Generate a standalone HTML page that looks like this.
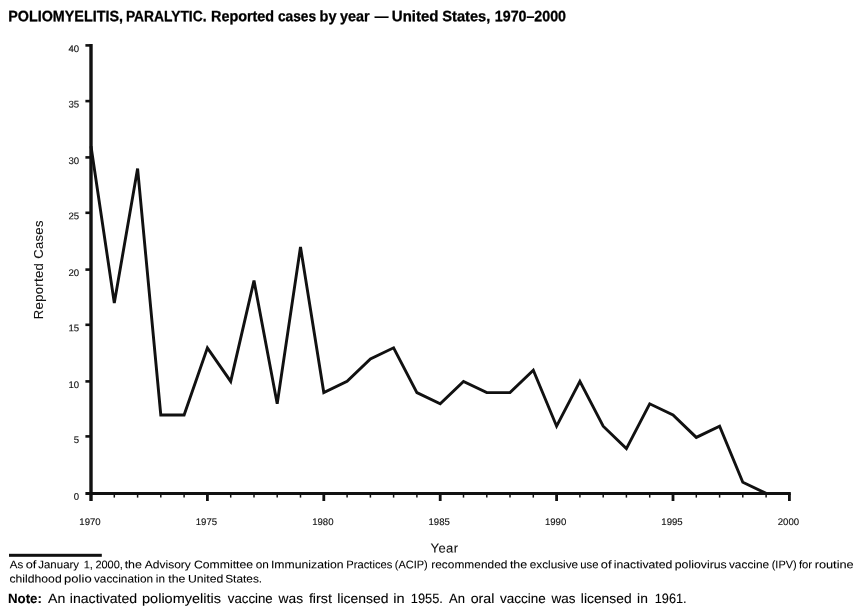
<!DOCTYPE html>
<html><head><meta charset="utf-8"><title>Poliomyelitis</title>
<style>
html,body{margin:0;padding:0;background:#fff;}
body{width:860px;height:615px;overflow:hidden;font-family:"Liberation Sans",sans-serif;}
svg{display:block;position:absolute;left:0;top:0;}
text{white-space:pre;}
</style></head><body>
<svg width="860" height="615" viewBox="0 0 860 615" font-family="'Liberation Sans', sans-serif">
<g stroke="#111" fill="none">
<line x1="91.0" y1="44" x2="91.0" y2="501" stroke-width="3.4"/>
<line x1="85.4" y1="493.4" x2="790.8" y2="493.4" stroke-width="3"/>
<line x1="85.4" y1="436.4" x2="91.0" y2="436.4" stroke-width="2.6"/>
<line x1="85.4" y1="381.4" x2="91.0" y2="381.4" stroke-width="2.6"/>
<line x1="85.4" y1="324.8" x2="91.0" y2="324.8" stroke-width="2.6"/>
<line x1="85.4" y1="269.6" x2="91.0" y2="269.6" stroke-width="2.6"/>
<line x1="85.4" y1="212.8" x2="91.0" y2="212.8" stroke-width="2.6"/>
<line x1="85.4" y1="157.4" x2="91.0" y2="157.4" stroke-width="2.6"/>
<line x1="85.4" y1="101.1" x2="91.0" y2="101.1" stroke-width="2.6"/>
<line x1="85.4" y1="45.4" x2="91.0" y2="45.4" stroke-width="2.6"/>
<line x1="114.3" y1="493.4" x2="114.3" y2="497.6" stroke-width="1.5"/>
<line x1="137.6" y1="493.4" x2="137.6" y2="497.6" stroke-width="1.5"/>
<line x1="160.8" y1="493.4" x2="160.8" y2="497.6" stroke-width="1.5"/>
<line x1="184.1" y1="493.4" x2="184.1" y2="497.6" stroke-width="1.5"/>
<line x1="207.4" y1="493.4" x2="207.4" y2="501" stroke-width="2.8"/>
<line x1="230.7" y1="493.4" x2="230.7" y2="497.6" stroke-width="1.5"/>
<line x1="254.0" y1="493.4" x2="254.0" y2="497.6" stroke-width="1.5"/>
<line x1="277.2" y1="493.4" x2="277.2" y2="497.6" stroke-width="1.5"/>
<line x1="300.5" y1="493.4" x2="300.5" y2="497.6" stroke-width="1.5"/>
<line x1="323.8" y1="493.4" x2="323.8" y2="501" stroke-width="2.8"/>
<line x1="347.1" y1="493.4" x2="347.1" y2="497.6" stroke-width="1.5"/>
<line x1="370.4" y1="493.4" x2="370.4" y2="497.6" stroke-width="1.5"/>
<line x1="393.6" y1="493.4" x2="393.6" y2="497.6" stroke-width="1.5"/>
<line x1="416.9" y1="493.4" x2="416.9" y2="497.6" stroke-width="1.5"/>
<line x1="440.2" y1="493.4" x2="440.2" y2="501" stroke-width="2.8"/>
<line x1="463.5" y1="493.4" x2="463.5" y2="497.6" stroke-width="1.5"/>
<line x1="486.8" y1="493.4" x2="486.8" y2="497.6" stroke-width="1.5"/>
<line x1="510.0" y1="493.4" x2="510.0" y2="497.6" stroke-width="1.5"/>
<line x1="533.3" y1="493.4" x2="533.3" y2="497.6" stroke-width="1.5"/>
<line x1="556.6" y1="493.4" x2="556.6" y2="501" stroke-width="2.8"/>
<line x1="579.9" y1="493.4" x2="579.9" y2="497.6" stroke-width="1.5"/>
<line x1="603.2" y1="493.4" x2="603.2" y2="497.6" stroke-width="1.5"/>
<line x1="626.4" y1="493.4" x2="626.4" y2="497.6" stroke-width="1.5"/>
<line x1="649.7" y1="493.4" x2="649.7" y2="497.6" stroke-width="1.5"/>
<line x1="673.0" y1="493.4" x2="673.0" y2="501" stroke-width="2.8"/>
<line x1="696.3" y1="493.4" x2="696.3" y2="497.6" stroke-width="1.5"/>
<line x1="719.6" y1="493.4" x2="719.6" y2="497.6" stroke-width="1.5"/>
<line x1="742.8" y1="493.4" x2="742.8" y2="497.6" stroke-width="1.5"/>
<line x1="766.1" y1="493.4" x2="766.1" y2="497.6" stroke-width="1.5"/>
<line x1="789.4" y1="493.4" x2="789.4" y2="501" stroke-width="2.8"/>
<polyline points="91.0,146.2 114.3,303.0 137.6,168.6 160.8,415.0 184.1,415.0 207.4,347.8 230.7,381.4 254.0,280.6 277.2,403.8 300.5,247.0 323.8,392.6 347.1,381.4 370.4,359.0 393.6,347.8 416.9,392.6 440.2,403.8 463.5,381.4 486.8,392.6 510.0,392.6 533.3,370.2 556.6,426.2 579.9,381.4 603.2,426.2 626.4,448.6 649.7,403.8 673.0,415.0 696.3,437.4 719.6,426.2 742.8,482.2 766.1,493.4" stroke-width="2.9" stroke-linejoin="miter" stroke-linecap="butt"/>
</g>
<g font-size="9.6" fill="#111" stroke="#111" stroke-width="0.13">
<text transform="translate(79.2,499.8) rotate(0.03)" text-anchor="end">0</text>
<text transform="translate(79.2,442.9) rotate(0.03)" text-anchor="end">5</text>
<text transform="translate(79.2,387.9) rotate(0.03)" text-anchor="end">10</text>
<text transform="translate(79.2,331.3) rotate(0.03)" text-anchor="end">15</text>
<text transform="translate(79.2,276.1) rotate(0.03)" text-anchor="end">20</text>
<text transform="translate(79.2,219.3) rotate(0.03)" text-anchor="end">25</text>
<text transform="translate(79.2,163.9) rotate(0.03)" text-anchor="end">30</text>
<text transform="translate(79.2,107.6) rotate(0.03)" text-anchor="end">35</text>
<text transform="translate(79.2,51.9) rotate(0.03)" text-anchor="end">40</text>
<text transform="translate(90.0,524.9) rotate(0.03)" text-anchor="middle">1970</text>
<text transform="translate(206.4,524.9) rotate(0.03)" text-anchor="middle">1975</text>
<text transform="translate(322.8,524.9) rotate(0.03)" text-anchor="middle">1980</text>
<text transform="translate(439.2,524.9) rotate(0.03)" text-anchor="middle">1985</text>
<text transform="translate(555.6,524.9) rotate(0.03)" text-anchor="middle">1990</text>
<text transform="translate(672.0,524.9) rotate(0.03)" text-anchor="middle">1995</text>
<text transform="translate(788.4,524.9) rotate(0.03)" text-anchor="middle">2000</text>
</g>
<g font-size="13" fill="#111" stroke="#111" stroke-width="0.1">
<text transform="translate(444.5,552.4) rotate(0.03)" text-anchor="middle" letter-spacing="0.45">Year</text>
<text transform="translate(43.4,269.7) rotate(-90)" text-anchor="middle" letter-spacing="0.36">Reported Cases</text>
</g>
<rect x="9" y="553.8" width="92.8" height="3" fill="#111"/>
<g id="title" font-size="15.1" font-weight="bold" fill="#000" stroke="#000" stroke-width="0.3">
<text transform="translate(8.25,21.2) rotate(0.03) scale(0.950,1)">POLIOMYELITIS,</text> <text transform="translate(125.88,21.2) rotate(0.03) scale(0.916,1)">PARALYTIC.</text> <text transform="translate(211.05,21.2) rotate(0.03) scale(0.953,1)">Reported</text> <text transform="translate(277.94,21.2) rotate(0.03) scale(0.908,1)">cases</text> <text transform="translate(319.54,21.2) rotate(0.03) scale(0.959,1)">by</text> <text transform="translate(339.99,21.2) rotate(0.03) scale(0.953,1)">year</text> <text transform="translate(374.63,21.2) rotate(0.03) scale(0.903,1)">—</text> <text transform="translate(391.81,21.2) rotate(0.03) scale(0.993,1)">United</text> <text transform="translate(442.37,21.2) rotate(0.03) scale(0.967,1)">States,</text> <text transform="translate(494.81,21.2) rotate(0.03) scale(0.943,1)">1970–2000</text>
</g>
<g id="fn1" font-size="11.0" font-weight="normal" fill="#000" stroke="#000" stroke-width="0.07">
<text transform="translate(9.84,568.3) rotate(0.03) scale(1.045,1)">As</text> <text transform="translate(25.68,568.3) rotate(0.03) scale(1.162,1)">of</text> <text transform="translate(38.20,568.3) rotate(0.03) scale(1.045,1)">January</text> <text transform="translate(83.68,568.3) rotate(0.03) scale(0.998,1)">1,</text> <text transform="translate(95.41,568.3) rotate(0.03) scale(0.998,1)">2000,</text> <text transform="translate(124.64,568.3) rotate(0.03) scale(1.136,1)">the</text> <text transform="translate(144.83,568.3) rotate(0.03) scale(1.092,1)">Advisory</text> <text transform="translate(193.88,568.3) rotate(0.03) scale(1.115,1)">Committee</text> <text transform="translate(255.73,568.3) rotate(0.03) scale(1.073,1)">on</text> <text transform="translate(270.89,568.3) rotate(0.03) scale(1.115,1)">Immunization</text> <text transform="translate(346.35,568.3) rotate(0.03) scale(1.017,1)">Practices</text> <text transform="translate(394.82,568.3) rotate(0.03) scale(0.999,1)">(ACIP)</text> <text transform="translate(431.21,568.3) rotate(0.03) scale(1.084,1)">recommended</text> <text transform="translate(509.89,568.3) rotate(0.03) scale(1.136,1)">the</text> <text transform="translate(529.73,568.3) rotate(0.03) scale(1.072,1)">exclusive</text> <text transform="translate(580.30,568.3) rotate(0.03) scale(1.027,1)">use</text> <text transform="translate(600.76,568.3) rotate(0.03) scale(1.172,1)">of</text> <text transform="translate(613.72,568.3) rotate(0.03) scale(1.117,1)">inactivated</text> <text transform="translate(674.72,568.3) rotate(0.03) scale(1.121,1)">poliovirus</text> <text transform="translate(728.89,568.3) rotate(0.03) scale(1.082,1)">vaccine</text> <text transform="translate(771.69,568.3) rotate(0.03) scale(0.998,1)">(IPV)</text> <text transform="translate(798.92,568.3) rotate(0.03) scale(1.028,1)">for</text> <text transform="translate(814.65,568.3) rotate(0.03) scale(1.162,1)">routine</text>
</g>
<g id="fn2" font-size="11.0" font-weight="normal" fill="#000" stroke="#000" stroke-width="0.07">
<text transform="translate(9.46,582.5) rotate(0.03) scale(1.110,1)">childhood</text> <text transform="translate(64.09,582.5) rotate(0.03) scale(1.188,1)">polio</text> <text transform="translate(93.94,582.5) rotate(0.03) scale(1.076,1)">vaccination</text> <text transform="translate(155.85,582.5) rotate(0.03) scale(1.072,1)">in</text> <text transform="translate(168.25,582.5) rotate(0.03) scale(1.122,1)">the</text> <text transform="translate(187.89,582.5) rotate(0.03) scale(1.115,1)">United</text> <text transform="translate(225.16,582.5) rotate(0.03) scale(1.082,1)">States.</text>
</g>
<g id="note" font-size="13.5" font-weight="normal" fill="#000" stroke="#000" stroke-width="0.1">
<text transform="translate(8.01,603.0) rotate(0.03) scale(0.985,1)" font-weight="bold">Note:</text> <text transform="translate(48.07,603.0) rotate(0.03) scale(1.048,1)">An</text> <text transform="translate(69.82,603.0) rotate(0.03) scale(1.044,1)">inactivated</text> <text transform="translate(142.05,603.0) rotate(0.03) scale(1.075,1)">poliomyelitis</text> <text transform="translate(227.83,603.0) rotate(0.03) scale(0.982,1)">vaccine</text> <text transform="translate(278.62,603.0) rotate(0.03) scale(1.018,1)">was</text> <text transform="translate(308.88,603.0) rotate(0.03) scale(1.057,1)">first</text> <text transform="translate(337.36,603.0) rotate(0.03) scale(1.031,1)">licensed</text> <text transform="translate(393.29,603.0) rotate(0.03) scale(1.081,1)">in</text> <text transform="translate(410.80,603.0) rotate(0.03) scale(0.951,1)">1955.</text> <text transform="translate(449.09,603.0) rotate(0.03) scale(0.967,1)">An</text> <text transform="translate(470.66,603.0) rotate(0.03) scale(1.053,1)">oral</text> <text transform="translate(500.07,603.0) rotate(0.03) scale(0.998,1)">vaccine</text> <text transform="translate(551.62,603.0) rotate(0.03) scale(0.997,1)">was</text> <text transform="translate(580.87,603.0) rotate(0.03) scale(1.025,1)">licensed</text> <text transform="translate(637.09,603.0) rotate(0.03) scale(1.024,1)">in</text> <text transform="translate(654.79,603.0) rotate(0.03) scale(0.944,1)">1961.</text>
</g>
</svg>
</body></html>
